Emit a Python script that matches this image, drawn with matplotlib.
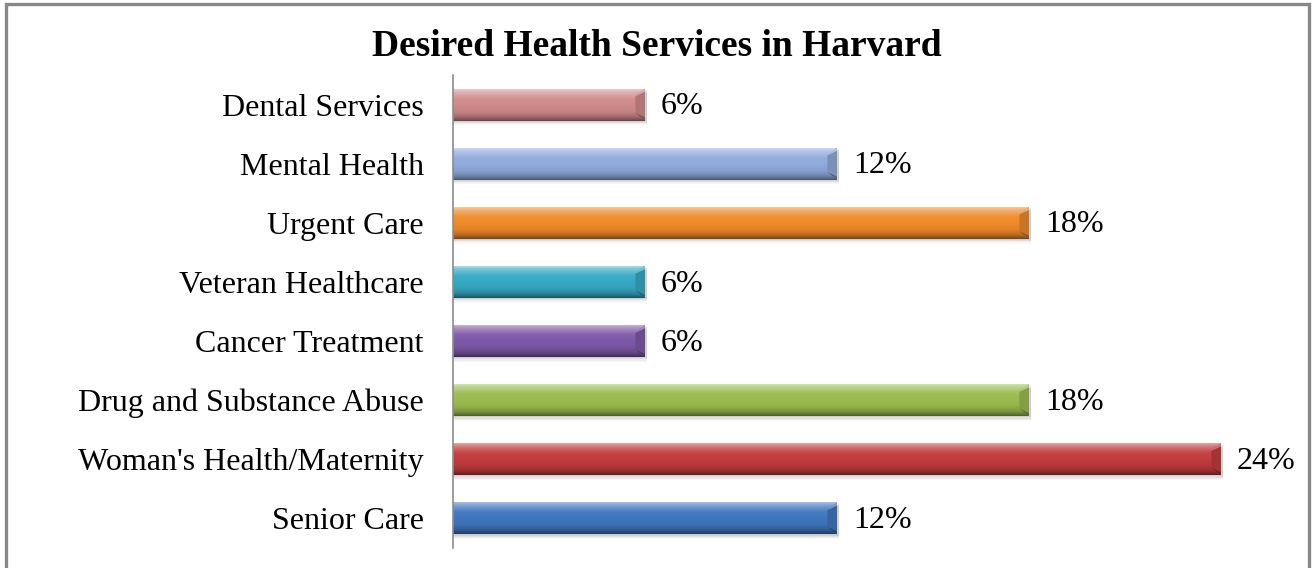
import matplotlib

matplotlib.use("Agg")
import matplotlib.pyplot as plt
import numpy as np
from matplotlib.colors import to_rgb
from matplotlib.patches import Polygon, Rectangle

services = [
    "Dental Services",
    "Mental Health",
    "Urgent Care",
    "Veteran Healthcare",
    "Cancer Treatment",
    "Drug and Substance Abuse",
    "Woman's Health/Maternity",
    "Senior Care",
]
percent = [6, 12, 18, 6, 6, 18, 24, 12]
bar_colors = [
    "#D08A8A",
    "#8FAADC",
    "#EE8A2A",
    "#35A9C4",
    "#7E58A8",
    "#9BBB4E",
    "#C23B3D",
    "#3F76BE",
]

plt.rcParams["font.family"] = ["Liberation Serif", "DejaVu Serif"]

W, H = 1312, 568
fig = plt.figure(figsize=(W / 100, H / 100), dpi=100)
ax = fig.add_axes([453 / W, 20 / H, 832 / W, 473 / H])

BAR_H = 0.54
FS = 23


def _shade(rgb, k):
    # k > 0 mixes toward white, k < 0 darkens
    rgb = np.asarray(rgb)
    if k >= 0:
        return rgb + (1 - rgb) * k
    return rgb * (1 + k)


def _gradient(base):
    stops = [(0.0, 0.55), (0.08, 0.35), (0.3, 0.05), (0.7, -0.05),
             (0.86, -0.2), (0.95, -0.38), (1.0, -0.5)]
    t = np.linspace(0, 1, 64)
    ks = np.interp(t, [s[0] for s in stops], [s[1] for s in stops])
    return np.array([_shade(base, k) for k in ks])[:, None, :]


for i, (v, c) in enumerate(zip(percent, bar_colors)):
    base = np.array(to_rgb(c))
    y0, y1 = i - BAR_H / 2, i + BAR_H / 2
    # soft drop shadow below each bar
    for j, a in enumerate([0.10, 0.08, 0.06, 0.04]):
        off = 0.02 + 0.02 * j
        ax.add_patch(Rectangle((0, y0 + off), v + 0.05, BAR_H, color="0.3",
                               alpha=a, lw=0, zorder=1))
    ax.imshow(_gradient(base), extent=(0, v, y1, y0), aspect="auto",
              interpolation="bilinear", zorder=2)
    # bevelled right end
    bw, bh = 0.3, BAR_H * 0.24
    ax.add_patch(Polygon([(v - bw, y0 + bh), (v, y0), (v, y1), (v - bw, y1 - bh)],
                         closed=True, color=_shade(base, -0.15), lw=0, zorder=3))
    ax.add_patch(Polygon([(v - bw, y0 + bh), (v, y0), (v, y0 + bh * 0.4)],
                         closed=True, color=_shade(base, 0.3), lw=0, zorder=3))
    ax.add_patch(Polygon([(v - bw, y1 - bh), (v, y1), (v, y1 - bh * 0.4)],
                         closed=True, color=_shade(base, -0.4), lw=0, zorder=3))
    ax.annotate(f"{v}%", (v, i), xytext=(11.5, -1.5), textcoords="offset points",
                ha="left", va="center", fontsize=FS, color="black")

ax.set_xlim(0, 26)
ax.set_ylim(len(services) - 0.5, -0.5)
ax.set_yticks(range(len(services)))
ax.set_yticklabels(services, fontsize=FS)
ax.set_xticks([])
ax.tick_params(axis="y", length=0, pad=21)
for side in ["top", "right", "bottom"]:
    ax.spines[side].set_visible(False)
ax.spines["left"].set_color("#8C8C8C")
ax.spines["left"].set_linewidth(1.2)

fig.text(657 / W, 1 - 47 / H, "Desired Health Services in Harvard",
         ha="center", va="center", fontsize=27, fontweight="bold")

# outer frame
fig.patches.append(Rectangle((6 / W, -0.05), 1303 / W, 1.05 - 4.5 / H,
                             transform=fig.transFigure, fill=False,
                             edgecolor="#888888", lw=2.4))

fig.savefig("out.png", dpi=100)
